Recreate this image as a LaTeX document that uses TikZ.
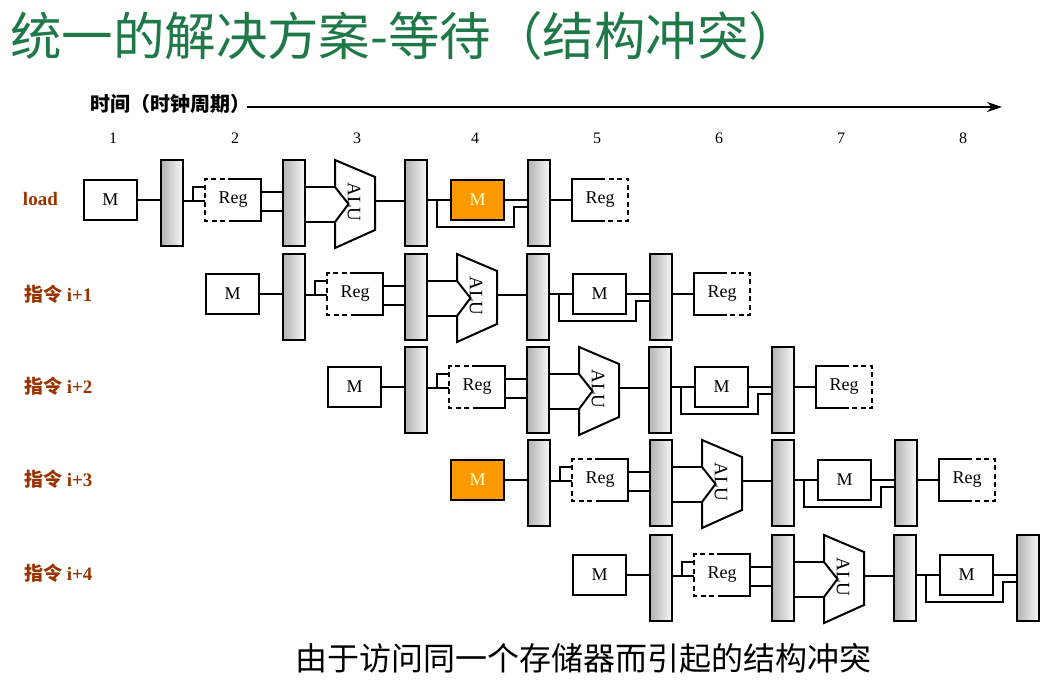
\documentclass[tikz,border=0pt]{standalone}
\usepackage{fontspec}
\setmainfont{Liberation Serif}
\newfontfamily\cjk{Noto Sans CJK SC}
\usetikzlibrary{arrows.meta,calc}
\definecolor{titlegreen}{RGB}{30,120,72}
\definecolor{lblbrown}{RGB}{153,51,0}
\definecolor{memorange}{RGB}{255,153,0}
\definecolor{memtext}{RGB}{255,255,205}
\begin{document}
\begin{tikzpicture}[x=1pt,y=-1pt,line width=2pt,
  bar/.style={draw,minimum width=22pt,minimum height=86pt,inner sep=0pt,left color=black!30,right color=black!3},
  mbox/.style={draw,fill=white,minimum width=53pt,minimum height=40pt,inner sep=0pt,font=\fontsize{18}{18}\selectfont},
  hot/.style={fill=memorange,text=memtext},
  regn/.style={minimum width=54pt,minimum height=40pt,inner sep=0pt,font=\fontsize{18}{18}\selectfont},
  alun/.style={minimum width=38pt,minimum height=86pt,inner sep=0pt},
  dsh/.style={dash pattern=on 5pt off 3.5pt},
  lbl/.style={anchor=west,inner sep=0pt,text=lblbrown,font=\bfseries\fontsize{19}{19}\selectfont},
  cyc/.style={font=\fontsize{16}{16}\selectfont}]
\fill[white] (0,0) rectangle (1055,695);
\useasboundingbox (0,0) rectangle (1055,695);
% title
\node[anchor=west,inner sep=0pt,text=titlegreen,font=\cjk\fontsize{51.5}{52}\selectfont] (title) at (9,36) {统一的解决方案-等待（结构冲突）};
% time axis
\node[anchor=west,inner sep=0pt,font=\cjk\bfseries\fontsize{20}{20}\selectfont] (hdr) at (89,104) {时间（时钟周期）};
\coordinate (tstart) at (247,107);
\coordinate (tend) at (1002,107);
\draw[-{Stealth[length=15pt,width=10pt]}] (tstart) -- (tend);
\foreach \i/\xx in {1/113,2/235,3/357,4/475,5/597,6/719,7/841,8/963}
  \node[cyc] (c\i) at (\xx,138) {\i};
% row labels
\node[lbl] (L0) at (22,199) {load};
\node[lbl] (L1) at (23,294) {{\cjk 指令} i+1};
\node[lbl] (L2) at (23,386) {{\cjk 指令} i+2};
\node[lbl] (L3) at (23,479) {{\cjk 指令} i+3};
\node[lbl] (L4) at (23,573) {{\cjk 指令} i+4};
% pipeline rows
\foreach \r/\dx/\dy in {0/0/0,1/122/94,2/244/187,3/367/280,4/489/375}{
 \ifnum\r=3 \tikzset{fcol/.style={hot}}\else\tikzset{fcol/.style={}}\fi
 \ifnum\r=0 \tikzset{dcol/.style={hot}}\else\tikzset{dcol/.style={}}\fi
 \begin{scope}[shift={(\dx,\dy)}]
  % IF
  \node[mbox,fcol] (F\r) at (110.5,200) {M};
  \node[bar] (A\r) at (172,203) {};
  \draw (F\r.east) -- (F\r.east -| A\r.west);
  % ID (register read/write)
  \node[regn] (R\r) at (233,200) {Reg};
  \draw (R\r.north) -- (R\r.north east) -- (R\r.south east) -- (R\r.south);
  \draw[dsh] (R\r.north) -- (R\r.north west) -- (R\r.south west) -- (R\r.south);
  \coordinate (a\r) at (193,201);
  \draw (A\r.east |- a\r) -- (R\r.west |- a\r);
  \draw (a\r) |- (R\r.west |- 0,187);
  \node[bar] (B\r) at (294,203) {};
  \draw (R\r.east |- 0,192) -- (B\r.west |- 0,192);
  \draw (R\r.east |- 0,211) -- (B\r.west |- 0,211);
  % EX
  \node[alun] (U\r) at (355,204) {};
  \draw[fill=white,line join=miter] (U\r.north west) -- ($(U\r.north east)+(0,17)$)
     -- ($(U\r.south east)+(0,-18)$) -- (U\r.south west) -- ($(U\r.west)+(0,18)$)
     -- ($(U\r.west)+(13.5,0)$) -- ($(U\r.west)+(0,-17)$) -- cycle;
  \node[rotate=-90,inner sep=0pt,font=\fontsize{19}{19}\selectfont] (T\r) at ($(U\r.center)+(-1,-2)$) {ALU};
  \draw (B\r.east |- 0,187) -- ($(U\r.west)+(0,-17)$);
  \draw (B\r.east |- 0,222) -- ($(U\r.west)+(0,18)$);
  \node[bar] (C\r) at (416,203) {};
  \draw (U\r.east |- 0,201) -- (C\r.west |- 0,201);
  % MEM
  \node[mbox,dcol] (D\r) at (477.5,200) {M};
  \draw (C\r.east |- D\r.west) -- (D\r.west);
  \node[bar] (E\r) at (539,203) {};
  \draw (D\r.east) -- (D\r.east -| E\r.west);
  \coordinate (j\r) at (437,200);
  \coordinate (k\r) at (514,227);
  \draw (j\r) |- (k\r) |- (E\r.west |- 0,207);
  % WB
  \ifnum\r<4
   \node[regn] (W\r) at (600,200) {Reg};
   \draw (W\r.north) -- (W\r.north west) -- (W\r.south west) -- (W\r.south);
   \draw[dsh] (W\r.north) -- (W\r.north east) -- (W\r.south east) -- (W\r.south);
   \draw (E\r.east |- W\r.west) -- (W\r.west);
  \fi
 \end{scope}
}
% caption
\node[inner sep=0pt,font=\cjk\fontsize{32}{32}\selectfont] (cap) at (583,658) {由于访问同一个存储器而引起的结构冲突};
\end{tikzpicture}
\end{document}
